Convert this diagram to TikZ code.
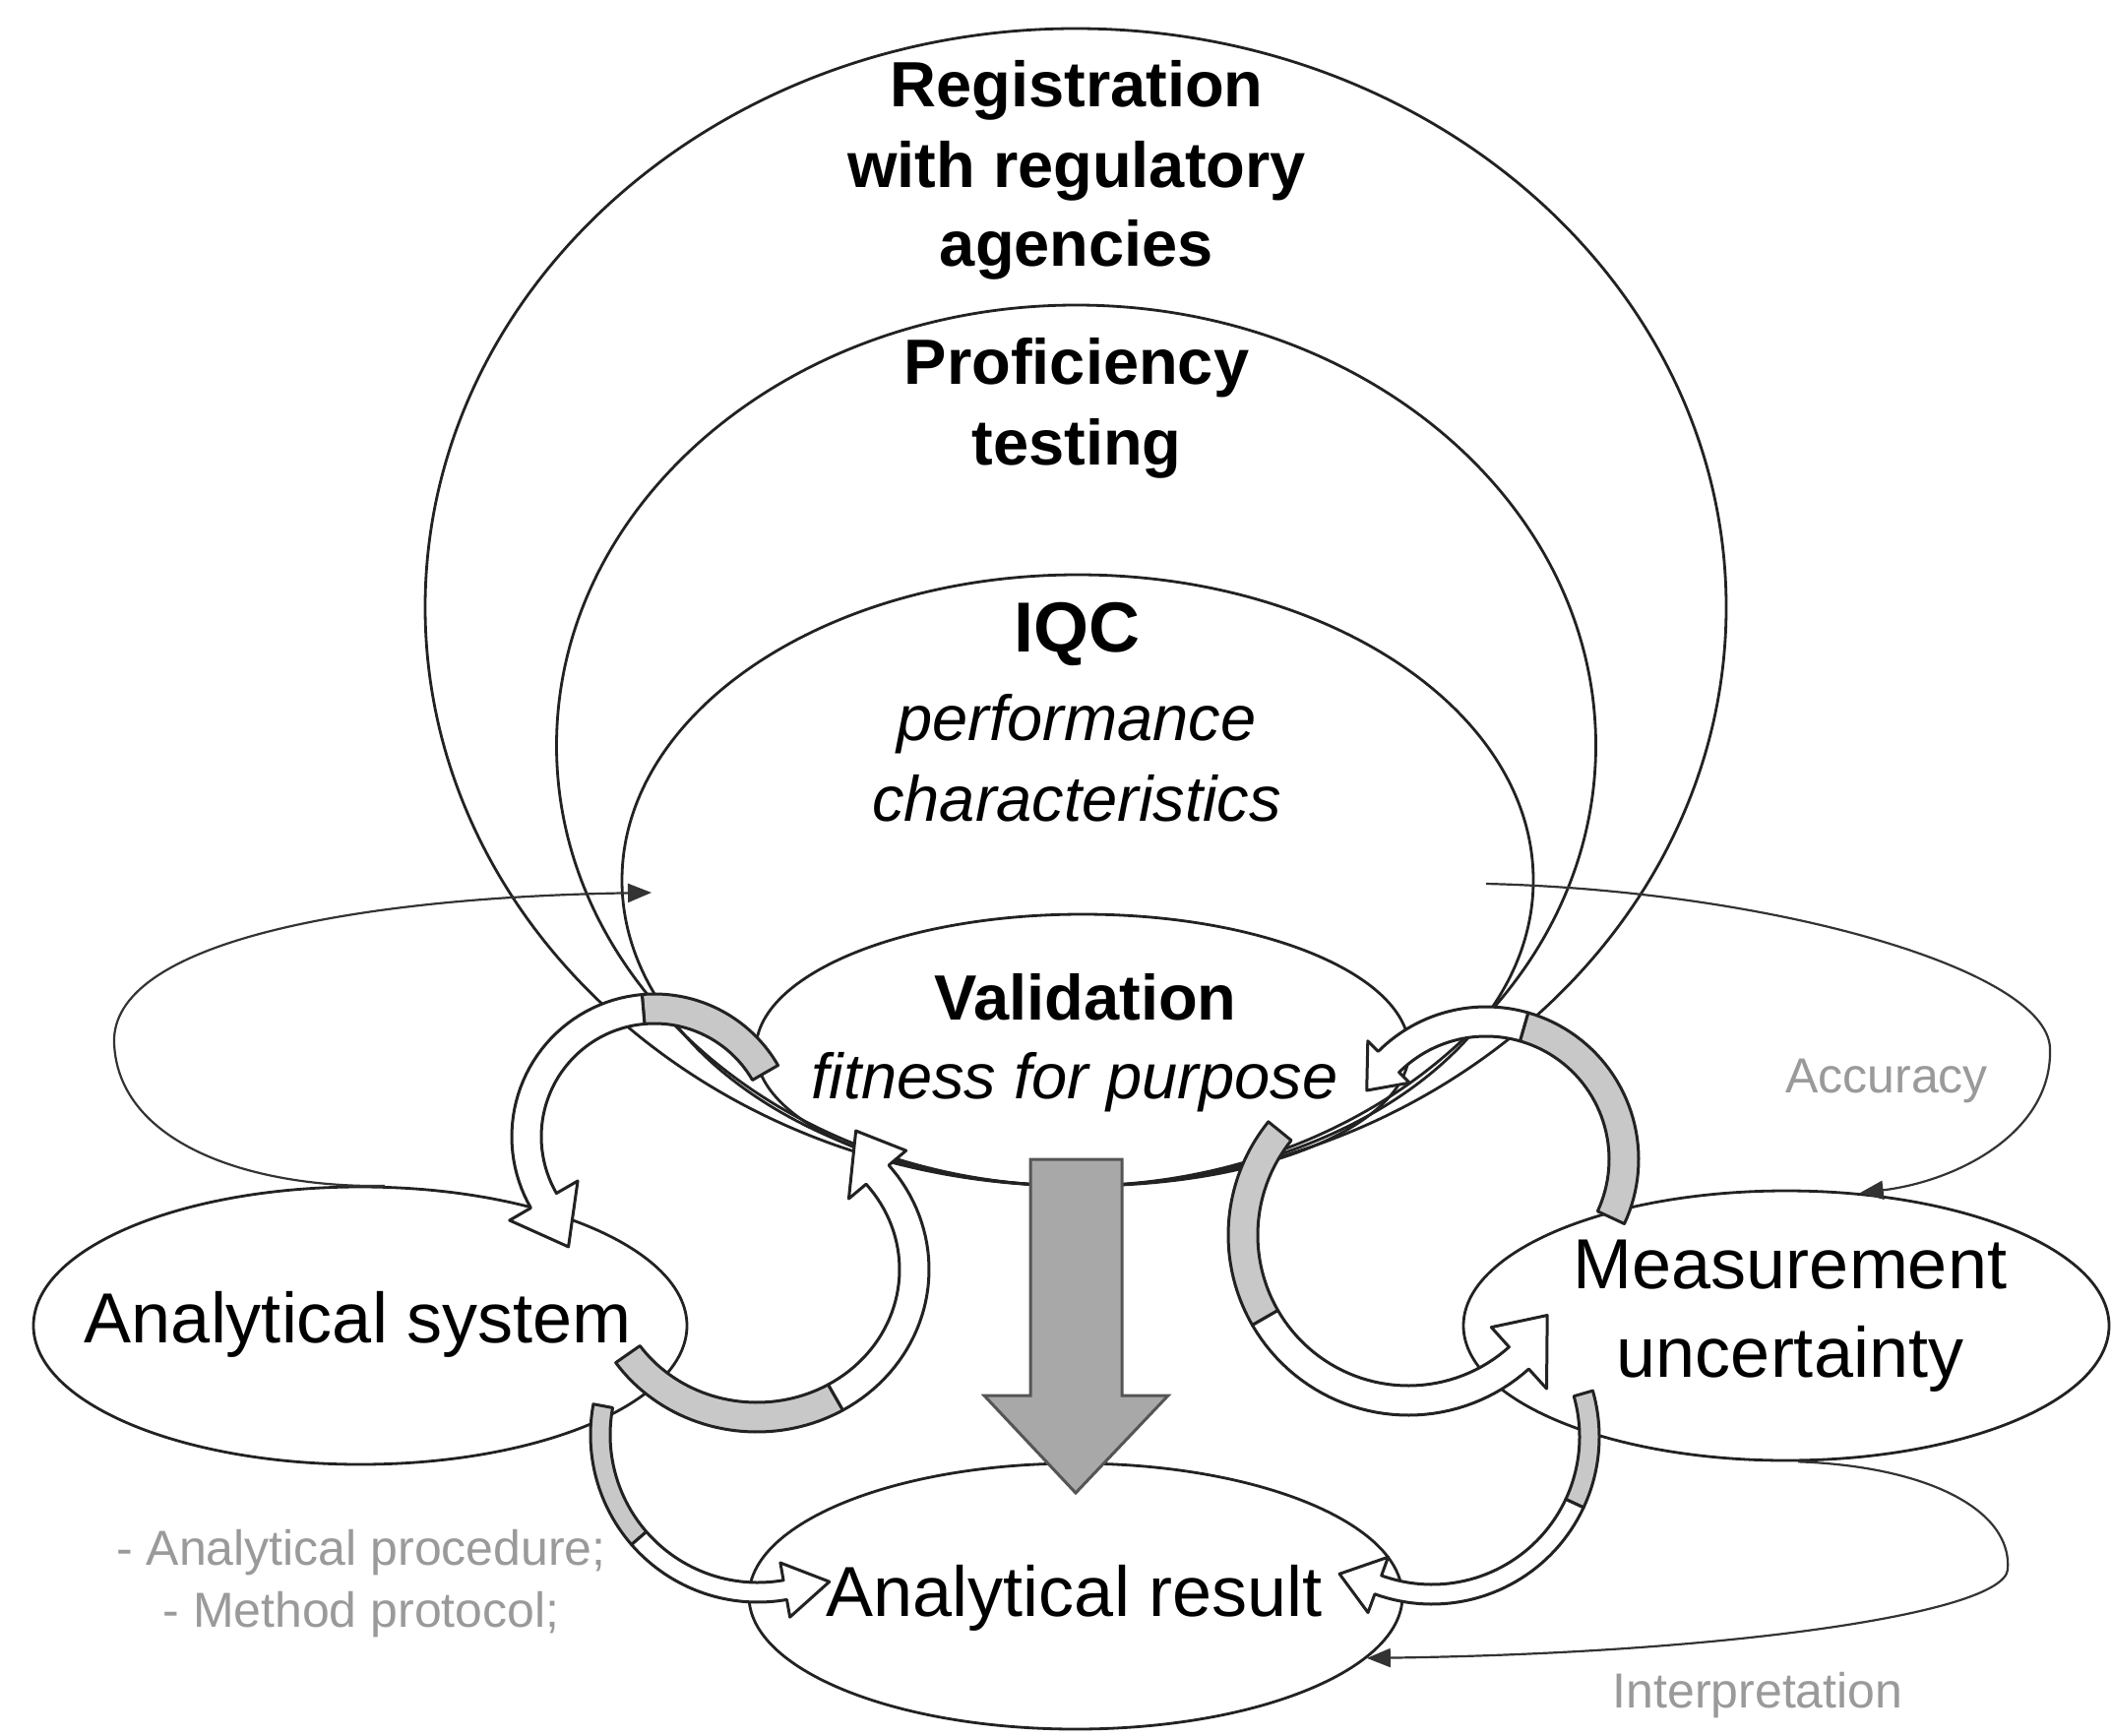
\documentclass[tikz,border=0pt]{standalone}
\usepackage{fontspec}
\setmainfont{Liberation Sans}
\usetikzlibrary{shapes.geometric,arrows.meta}

\definecolor{ink}{HTML}{222222}
\definecolor{loopink}{HTML}{333333}
\definecolor{ribgray}{HTML}{C8C8C8}
\definecolor{bigarrow}{HTML}{A8A8A8}
\definecolor{bigarrowline}{HTML}{555555}
\definecolor{notegray}{HTML}{9A9A9A}

\tikzset{
  oval/.style={ellipse, draw=ink, line width=2.8pt, inner sep=0pt},
  loopline/.style={draw=loopink, line width=2.2pt, -{Triangle[length=24pt,width=19pt]}},
  ribback/.style={fill=ribgray, draw=ink, line width=3pt, line join=round},
  ribfront/.style={fill=white, draw=ink, line width=3pt, line join=round},
  boldtxt/.style={font=\fontsize{65}{82}\selectfont\bfseries, anchor=base, inner sep=0pt},
  bigbold/.style={font=\fontsize{72}{86}\selectfont\bfseries, anchor=base, inner sep=0pt},
  itxt/.style={font=\fontsize{65}{82}\selectfont\itshape, anchor=base, inner sep=0pt},
  bigtxt/.style={font=\fontsize{72}{86}\selectfont, anchor=base, inner sep=0pt},
  notetxt/.style={font=\fontsize{50}{62}\selectfont, text=notegray, anchor=base, inner sep=0pt},
}

% Curved ribbon arrow along an elliptical arc.
% #1,#2 centre; #3,#4 radii of the centre line; #5 tail angle; #6 end of the
% shaded back part; #7 angle of the head base; #8 angle of the tip; #9 head half width.
% \rh = half band width, \rtip = radial offset of the tip.
\newcommand\ribbon[9]{%
  \filldraw[ribback]
    plot[domain=0:1,samples=40,variable=\rr]
      ({#1+(#3+\rh)*cos((#5)+((#6)-(#5))*\rr)},{#2+(#4+\rh)*sin((#5)+((#6)-(#5))*\rr)})
    -- plot[domain=0:1,samples=40,variable=\rr]
      ({#1+(#3-\rh)*cos((#6)+((#5)-(#6))*\rr)},{#2+(#4-\rh)*sin((#6)+((#5)-(#6))*\rr)})
    -- cycle;
  \filldraw[ribfront]
    plot[domain=0:1,samples=40,variable=\rr]
      ({#1+(#3+\rh)*cos((#6)+((#7)-(#6))*\rr)},{#2+(#4+\rh)*sin((#6)+((#7)-(#6))*\rr)})
    -- ({#1+(#3+#9)*cos(#7)},{#2+(#4+#9)*sin(#7)})
    -- ({#1+(#3+\rtip)*cos(#8)},{#2+(#4+\rtip)*sin(#8)})
    -- ({#1+(#3-#9)*cos(#7)},{#2+(#4-#9)*sin(#7)})
    -- plot[domain=0:1,samples=40,variable=\rr]
      ({#1+(#3-\rh)*cos((#7)+((#6)-(#7))*\rr)},{#2+(#4-\rh)*sin((#7)+((#6)-(#7))*\rr)})
    -- cycle;
}

\begin{document}
\begin{tikzpicture}[x=1pt,y=-1pt]
\useasboundingbox[fill=white] (0,0) rectangle (2145,1764);

% nested quality layers
\node[oval, minimum width=1322pt, minimum height=1176pt] (reg)  at (1093,617) {};
\node[oval, minimum width=1056pt, minimum height=895pt]  (prof) at (1093.5,757.5) {};
\node[oval, minimum width=926pt,  minimum height=621pt]  (iqc)  at (1095,894.5) {};
\node[oval, minimum width=664pt,  minimum height=276pt]  (val)  at (1100,1067) {};

% process ellipses
\node[oval, minimum width=664pt, minimum height=282pt] (asys) at (366,1347) {};
\node[oval, minimum width=656pt, minimum height=274pt] (meas) at (1815,1347) {};
\node[oval, minimum width=664pt, minimum height=270pt] (ares) at (1093,1622) {};

% feedback loops
\coordinate (ltip) at (662,907);
\coordinate (rstart) at (1510,898);
\draw[loopline] (asys.80) .. controls (250,1207) and (120,1160) .. (116,1060)
  .. controls (112,960) and (350,912) .. (ltip);
\draw[loopline] (rstart) .. controls (1800,905) and (2080,985) .. (2083,1065)
  .. controls (2086,1150) and (1990,1200) .. (meas.61);
\draw[loopline] (meas.-85) .. controls (1960,1490) and (2045,1535) .. (2040,1595)
  .. controls (2035,1640) and (1750,1680) .. (ares.-12);

% curved ribbon arrows
\def\rh{15}\def\rtip{12}
\ribbon{665}{1155}{130}{130}{-30}{-95}{-210}{-232}{40}
\def\rh{15}\def\rtip{20}
\ribbon{769}{1290}{160}{150}{145}{60}{-40}{-56}{38}
\def\rh{15}\def\rtip{-5}
\ribbon{1431}{1255}{168}{168}{219}{150}{48}{30}{42}
\def\rh{15}\def\rtip{0}
\ribbon{1510}{1178}{140}{140}{25}{-74}{-135}{-150}{30}
\def\rh{10}\def\rtip{6}
\ribbon{770}{1458}{160}{160}{190.6}{139}{80}{64}{28}
\def\rh{10}\def\rtip{8}
\ribbon{1455}{1460}{160}{160}{-16}{25}{110}{124}{30}

% main downward arrow
\filldraw[fill=bigarrow, draw=bigarrowline, line width=3pt, line join=miter]
  (1047,1178) -- (1140,1178) -- (1140,1418) -- (1187,1418) -- (1093,1517)
  -- (1000,1418) -- (1047,1418) -- cycle;

% labels
\node[boldtxt] (treg1) at (1094,108) {Registration};
\node[boldtxt] (treg2) at (1094,190) {with regulatory};
\node[boldtxt] (treg3) at (1094,270) {agencies};
\node[boldtxt] (tprof1) at (1094,390) {Proficiency};
\node[boldtxt] (tprof2) at (1094,472) {testing};
\node[bigbold] (tiqc1) at (1094,662) {IQC};
\node[itxt] (tiqc2) at (1094,752) {performance};
\node[itxt] (tiqc3) at (1094,834) {characteristics};
\node[boldtxt] (tval1) at (1103,1036) {Validation};
\node[itxt] (tval2) at (1092,1116) {fitness for purpose};
\node[bigtxt] (tasys) at (364,1364) {Analytical system};
\node[bigtxt] (tmeas1) at (1819,1309) {Measurement};
\node[bigtxt] (tmeas2) at (1819,1399) {uncertainty};
\node[bigtxt] (tares) at (1092,1642) {Analytical result};
\node[notetxt] (tacc) at (1917,1110) {Accuracy};
\node[notetxt] (tproc1) at (367,1590) {- Analytical procedure;};
\node[notetxt] (tproc2) at (367,1653) {- Method protocol;};
\node[notetxt] (tint) at (1786,1735) {Interpretation};
\end{tikzpicture}
\end{document}
